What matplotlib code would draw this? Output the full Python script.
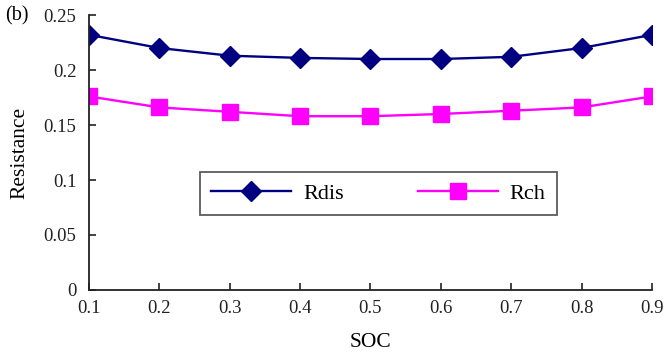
import matplotlib
matplotlib.use("Agg")
import matplotlib.pyplot as plt
from matplotlib.ticker import FuncFormatter

soc = [0.1, 0.2, 0.3, 0.4, 0.5, 0.6, 0.7, 0.8, 0.9]
r_dis = [0.232, 0.220, 0.213, 0.211, 0.210, 0.210, 0.212, 0.220, 0.232]
r_ch = [0.176, 0.166, 0.162, 0.158, 0.158, 0.160, 0.163, 0.166, 0.176]
y_ticks = [0, 0.05, 0.1, 0.15, 0.2, 0.25]

plt.rcParams['font.family'] = ['Liberation Serif', 'DejaVu Serif']

fig = plt.figure(figsize=(6.67, 3.54), dpi=100)
ax = fig.add_axes([0.1334, 0.1808, 0.8441, 0.7768])

ax.plot(soc, r_dis, color='#000080', lw=1.7, marker='D', ms=10, label='Rdis')
ax.plot(soc, r_ch, color='#FF00FF', lw=1.7, marker='s', ms=11.5, label='Rch')

ax.set_xlim(0.1, 0.9)
ax.set_ylim(0, 0.25)
ax.set_xticks(soc)
ax.set_yticks(y_ticks)
ax.yaxis.set_major_formatter(FuncFormatter(lambda v, p: f"{v:g}"))
ax.xaxis.set_major_formatter(FuncFormatter(lambda v, p: f"{v:g}"))
for s in ['top', 'right']:
    ax.spines[s].set_visible(False)
for s in ['left', 'bottom']:
    ax.spines[s].set_linewidth(1.3)
    ax.spines[s].set_color('#222222')
ax.tick_params(direction='in', length=5, width=1.2, labelsize=13.5, pad=7, colors='#222222')
ax.tick_params(axis='y', pad=9)
for lbl in ax.get_xticklabels() + ax.get_yticklabels():
    lbl.set_clip_on(False)

ax.set_xlabel('SOC', fontsize=15.5, labelpad=12)
ax.set_ylabel('Resistance', fontsize=15.5, labelpad=10)

fig.text(0.008, 0.955, '(b)', fontsize=14.5, va='center', ha='left')

leg = ax.legend(loc='center', bbox_to_anchor=(0.5675, 0.4534),
                bbox_transform=fig.transFigure, ncol=2, fontsize=16,
                frameon=True, fancybox=False, edgecolor='#333333',
                handlelength=3.6, handletextpad=0.55, columnspacing=3.3,
                borderpad=0.5, borderaxespad=0)
leg.get_frame().set_linewidth(1.3)

fig.savefig('out.png', dpi=100)
